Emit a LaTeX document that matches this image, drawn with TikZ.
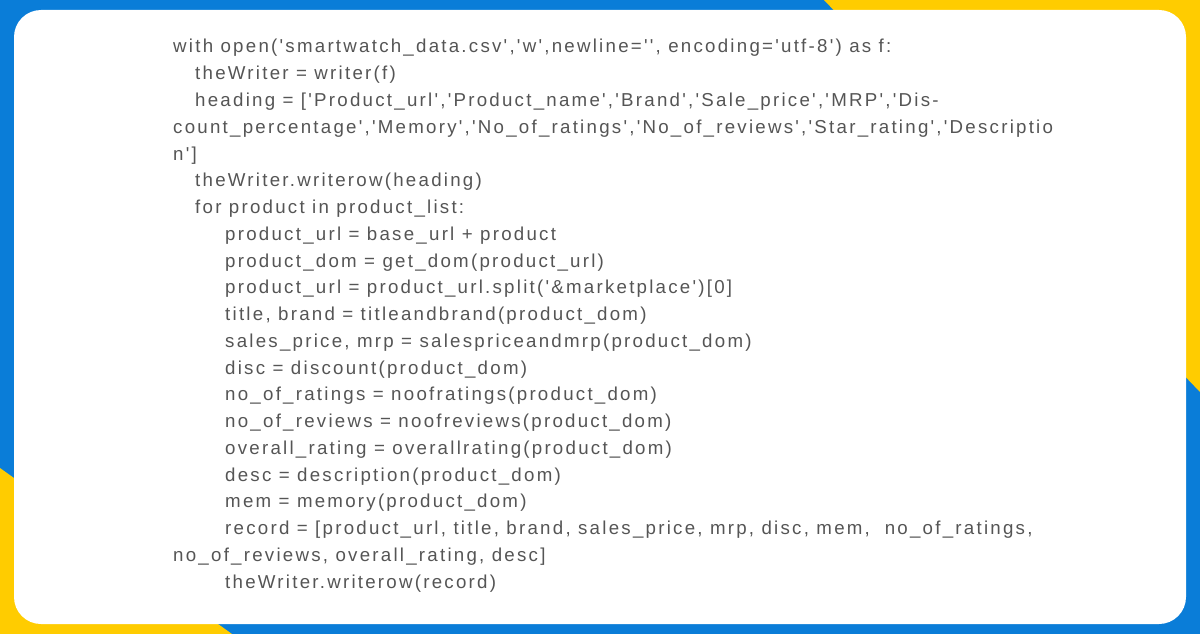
\documentclass[tikz,border=0pt]{standalone}
\usepackage{fontspec}
\newfontfamily\codefont[LetterSpace=12]{Liberation Sans}
\definecolor{BgBlue}{HTML}{0A7DD8}
\definecolor{BgYellow}{HTML}{FFCC00}
\definecolor{CodeGray}{HTML}{555555}
\begin{document}
\begin{tikzpicture}[x=1pt,y=-1pt,
    code/.style={anchor=base west,inner sep=0pt,text=CodeGray,
      font=\codefont\fontsize{18.7}{20}\selectfont}]
  \useasboundingbox (0,0) rectangle (1200,634);
  % background
  \fill[BgBlue] (0,0) rectangle (1200,634);
  \fill[BgYellow] (824,0) -- (1200,0) -- (1200,392) -- cycle;
  \fill[BgYellow] (0,468) -- (232,634) -- (0,634) -- cycle;
  \fill[white,rounded corners=27pt] (14,10) rectangle (1186,624);
  % code lines: indent / text
  \foreach \ind/\txt [count=\i from 0] in {
    173/{with open('smartwatch\_data.csv','w',newline='', encoding='utf-8') as f:},
    195/{theWriter = writer(f)},
    195/{heading = ['Product\_url','Product\_name','Brand','Sale\_price','MRP','Dis-},
    173/{count\_percentage','Memory','No\_of\_ratings','No\_of\_reviews','Star\_rating','Descriptio},
    173/{n']},
    195/{theWriter.writerow(heading)},
    195/{for product in product\_list:},
    225/{product\_url = base\_url + product},
    225/{product\_dom = get\_dom(product\_url)},
    225/{product\_url = product\_url.split('\&marketplace')[0]},
    225/{title, brand = titleandbrand(product\_dom)},
    225/{sales\_price, mrp = salespriceandmrp(product\_dom)},
    225/{disc = discount(product\_dom)},
    225/{no\_of\_ratings = noofratings(product\_dom)},
    225/{no\_of\_reviews = noofreviews(product\_dom)},
    225/{overall\_rating = overallrating(product\_dom)},
    225/{desc = description(product\_dom)},
    225/{mem = memory(product\_dom)},
    225/{record = [product\_url, title, brand, sales\_price, mrp, disc, mem,\ \ no\_of\_ratings,},
    173/{no\_of\_reviews, overall\_rating, desc]},
    225/{theWriter.writerow(record)}}
    \node[code] (line\i) at (\ind,{53+26.75*\i}) {\txt};
\end{tikzpicture}
\end{document}
